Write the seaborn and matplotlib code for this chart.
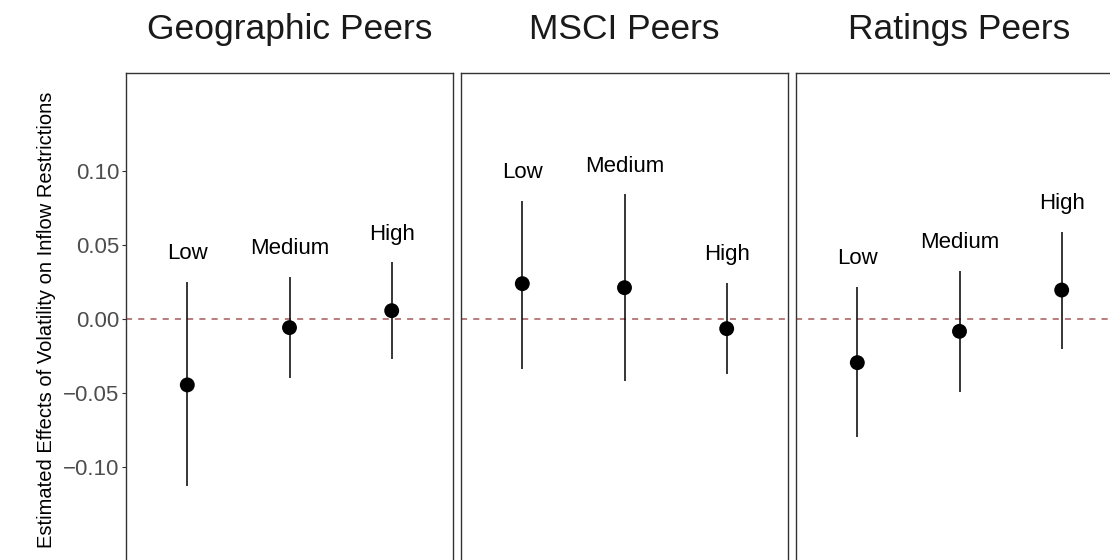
import pandas as pd
import matplotlib
matplotlib.use('Agg')
import matplotlib.pyplot as plt
import seaborn as sns

groups = ['Geographic Peers', 'MSCI Peers', 'Ratings Peers']
levels = ['Low', 'Medium', 'High']

# point estimates and interval bounds, per peer group (Low, Medium, High)
geo_est = [-0.0444, -0.0058, 0.0056]
geo_lo = [-0.1122, -0.0400, -0.0272]
geo_hi = [0.0251, 0.0285, 0.0382]

msci_est = [0.0238, 0.0211, -0.0065]
msci_lo = [-0.0339, -0.0415, -0.0373]
msci_hi = [0.0797, 0.0840, 0.0245]

rat_est = [-0.0294, -0.0083, 0.0195]
rat_lo = [-0.0792, -0.0489, -0.0200]
rat_hi = [0.0218, 0.0323, 0.0588]

yticks = [-0.10, -0.05, 0.00, 0.05, 0.10]
ytick_labels = ['\u22120.10', '\u22120.05', '0.00', '0.05', '0.10']

rows = []
for grp, est, lo, hi in zip(groups,
                            [geo_est, msci_est, rat_est],
                            [geo_lo, msci_lo, rat_lo],
                            [geo_hi, msci_hi, rat_hi]):
    for i, lev in enumerate(levels):
        rows.append({'group': grp, 'level': lev, 'pos': i,
                     'est': est[i], 'lo': lo[i], 'hi': hi[i]})
df = pd.DataFrame(rows)

sns.set_style('white')
plt.rcParams['font.family'] = ['Liberation Sans', 'DejaVu Sans']


def draw(data, **kws):
    ax = plt.gca()
    ax.axhline(0, color='#a65959', ls=(0, (4, 4)), lw=1.1, zorder=1)
    ax.vlines(data['pos'], data['lo'], data['hi'], color='black', lw=1.1, zorder=2)
    sns.scatterplot(data=data, x='pos', y='est', color='black', s=115,
                    edgecolor='none', ax=ax, zorder=3)
    for _, r in data.iterrows():
        ax.text(r['pos'], r['hi'] + 0.019, r['level'], ha='center', va='center',
                fontsize=16, color='black')


facet = sns.FacetGrid(df, col='group', col_order=groups, sharey=True,
                      height=5.6, aspect=1110 / 560 / 3, despine=False)
facet.map_dataframe(draw)
fig = facet.figure
fig.set_size_inches(11.1, 5.6)

for i, (ax, grp) in enumerate(zip(facet.axes.flat, groups)):
    ax.set_position([(126 + i * 335) / 1110, 1 - 565 / 560, 327 / 1110, 492 / 560])
    ax.set_xlim(-0.6, 2.6)
    ax.set_ylim(-0.1657, 0.1657)
    ax.set_xticks([])
    ax.set_xlabel('')
    ax.set_ylabel('')
    ax.set_title(grp, fontsize=25.5, color='#1a1a1a', pad=24.5)
    for sp in ax.spines.values():
        sp.set_visible(True)
        sp.set_color('#333333')
        sp.set_linewidth(1.0)
    if i == 0:
        ax.set_yticks(yticks)
        ax.set_yticklabels(ytick_labels)
        ax.tick_params(axis='y', left=True, length=3, width=0.8, color='#333333',
                       labelcolor='#4d4d4d', labelsize=16, pad=2)
    else:
        ax.tick_params(axis='y', left=False, labelleft=False)

fig.text(47 / 1110, 1 - 320 / 560, 'Estimated Effects of Volatility on Inflow Restrictions',
         rotation=90, ha='center', va='center', fontsize=14.5, color='black')

fig.savefig('out.png', dpi=100)
